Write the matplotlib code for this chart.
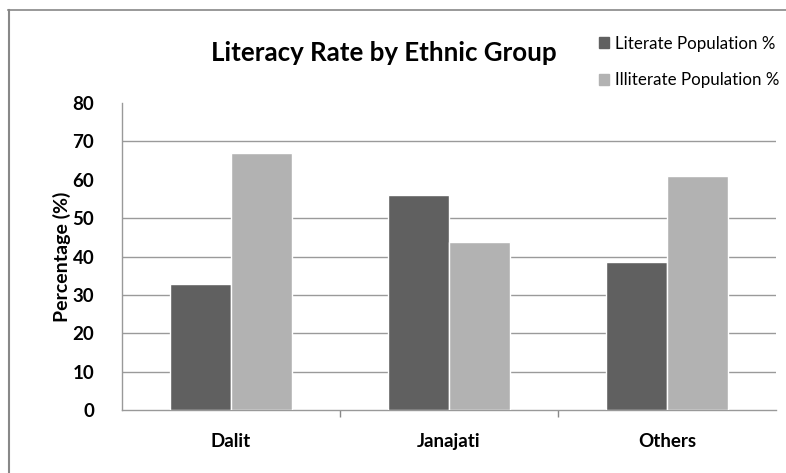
import matplotlib
matplotlib.use("Agg")
import matplotlib.pyplot as plt
import numpy as np
from matplotlib.lines import Line2D

categories = ["Dalit", "Janajati", "Others"]
literate = [32.8, 56.1, 38.5]
illiterate = [66.9, 43.8, 61.0]
series_names = ["Literate Population %", "Illiterate Population %"]
title = "Literacy Rate by Ethnic Group"
ylabel = "Percentage (%)"
grid_levels = [10, 20, 30, 40, 50, 70]
label_levels = [0, 10, 20, 30, 40, 50, 60, 70, 80]

plt.rcParams['font.family'] = ['Lato', 'DejaVu Sans']

W, H = 786, 473
fig = plt.figure(figsize=(W / 100, H / 100), dpi=100)
ax = fig.add_axes([122 / W, 1 - 410.3 / H, (776 - 122) / W, (410.3 - 103) / H])

x = np.arange(len(categories))
bw = 0.28
dark = "#606060"
light = "#b2b2b2"
ax.bar(x - bw / 2, literate, bw, color=dark, edgecolor="white", linewidth=1.0,
       label=series_names[0], zorder=3)
ax.bar(x + bw / 2, illiterate, bw, color=light, edgecolor="white", linewidth=1.0,
       label=series_names[1], zorder=3)

ax.set_xlim(-0.5, len(categories) - 0.5)
ax.set_ylim(0, 80)

ax.set_yticks(label_levels)
ax.set_yticklabels([str(v) for v in label_levels], fontsize=13.5, fontweight="bold")
ax.tick_params(axis="y", which="major", length=0, pad=20)
ax.set_yticks([0] + grid_levels, minor=True)
ax.tick_params(axis="y", which="minor", length=6, color="#888888", width=1)
for g in grid_levels:
    ax.axhline(g, color="#9a9a9a", linewidth=1.0, zorder=1)

ax.set_xticks(x)
ax.set_xticklabels(categories, fontsize=13.5, fontweight="bold")
ax.tick_params(axis="x", which="major", length=0, pad=16)
ax.set_xticks([0.5, 1.5], minor=True)
ax.tick_params(axis="x", which="minor", length=5, color="#888888", width=1)

for s in ["top", "right"]:
    ax.spines[s].set_visible(False)
for s in ["left", "bottom"]:
    ax.spines[s].set_color("#999999")
    ax.spines[s].set_linewidth(1.0)

ax.set_ylabel(ylabel, fontsize=14, fontweight="bold")
ax.yaxis.set_label_coords((71 - 122) / 654, 0.5)

fig.text(384 / W, 1 - 53 / H, title, fontsize=18.6, fontweight="bold",
         ha="center", va="center")

handles = [plt.Rectangle((0, 0), 1, 1, color=dark), plt.Rectangle((0, 0), 1, 1, color=light)]
fig.legend(handles, series_names, loc="upper left", bbox_to_anchor=(592 / W, 1 - 29 / H),
           frameon=False, fontsize=12.2, handlelength=0.6, handleheight=0.6,
           handletextpad=0.35, labelspacing=1.2, borderaxespad=0)

fig.add_artist(Line2D([8 / W, 1], [1 - 10.5 / H, 1 - 10.5 / H], color="#888888",
                      linewidth=1.2, transform=fig.transFigure))
fig.add_artist(Line2D([8.5 / W, 8.5 / W], [0, 1 - 10.5 / H], color="#888888",
                      linewidth=1.5, transform=fig.transFigure))

fig.savefig("out.png", dpi=100)
